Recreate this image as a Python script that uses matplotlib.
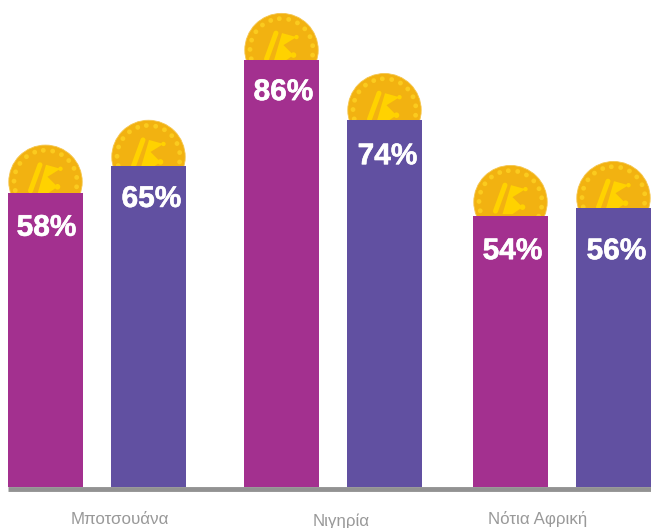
import matplotlib.pyplot as plt
import matplotlib.patheffects as pe
from matplotlib.patches import Circle, Polygon
import numpy as np

# values
categories = ['Μποτσουάνα', 'Νιγηρία', 'Νότια Αφρική']
labels = ['58%', '65%', '86%', '74%', '54%', '56%']
bar_heights = [59.2, 64.6, 85.9, 73.8, 54.5, 56.1]
bar_lefts = [8, 111, 244, 347, 473, 576]
label_drop = [35, 33, 32, 36, 35, 43]
label_shift = [1, 3, 2, 3, 2, 3]
coin_lift = [11, 9, 10, 10, 14, 10]
cat_x = [120, 341, 538]
cat_y = [-33, -34, -32]

purple = ['#A3308F', '#6150A1']
coin_color = '#F2B211'
flag_color = '#FFD200'
bar_w = 75
scale = 4.97   # px per percent


def draw_coin(ax, cx, cy):
    ax.add_patch(Circle((cx, cy), 36.7, fc=coin_color, ec='#F5C64E', lw=0.6, zorder=1))
    # ring of little dots
    for a in np.arange(-4, 356, 17.2):
        r = np.radians(a)
        ax.add_patch(Circle((cx + 31.5 * np.sin(r), cy + 31.5 * np.cos(r)), 2.4,
                            fc='#FBCB1E', ec='none', zorder=2))
    # flag
    ax.plot([cx - 5.5, cx - 15], [cy + 17, cy - 9], color=flag_color, lw=3.6,
            solid_capstyle='round', zorder=2)
    flag = [(cx + 0.5, cy + 17), (cx + 15, cy + 13), (cx + 2, cy + 5),
            (cx + 12, cy - 5), (cx + 2, cy - 12), (cx - 8, cy - 12)]
    ax.add_patch(Polygon(flag, closed=True, fc=flag_color, ec='none', zorder=2))
    ax.add_patch(Circle((cx + 15, cy + 13), 2.2, fc=flag_color, ec='none', zorder=2))
    ax.add_patch(Circle((cx + 12, cy - 5), 2.8, fc=flag_color, ec='none', zorder=2))


fig = plt.figure(figsize=(6.51, 5.28), dpi=100)
ax = fig.add_axes([0, 0, 1, 1])
ax.set_xlim(0, 651)
ax.set_ylim(-41, 487)
ax.axis('off')

for i, h in enumerate(bar_heights):
    top = h * scale
    ax.bar(bar_lefts[i], top, width=bar_w, align='edge', color=purple[i % 2], zorder=3)
    cx = bar_lefts[i] + bar_w / 2
    draw_coin(ax, cx, top + coin_lift[i])
    t = ax.text(cx + label_shift[i], top - label_drop[i], labels[i], color='white',
                family='Liberation Sans', weight='bold', fontsize=21.5,
                ha='center', va='center', zorder=4)
    t.set_path_effects([pe.withStroke(linewidth=0.4, foreground='white')])

# baseline
ax.plot([8, 651], [-1.5, -1.5], color='#929292', lw=3.5, solid_capstyle='butt', zorder=3)

for name, x, y in zip(categories, cat_x, cat_y):
    ax.text(x, y, name, color='#999999', family='Liberation Sans', fontsize=12.2,
            ha='center', va='center')

fig.savefig('out.png', dpi=100)
